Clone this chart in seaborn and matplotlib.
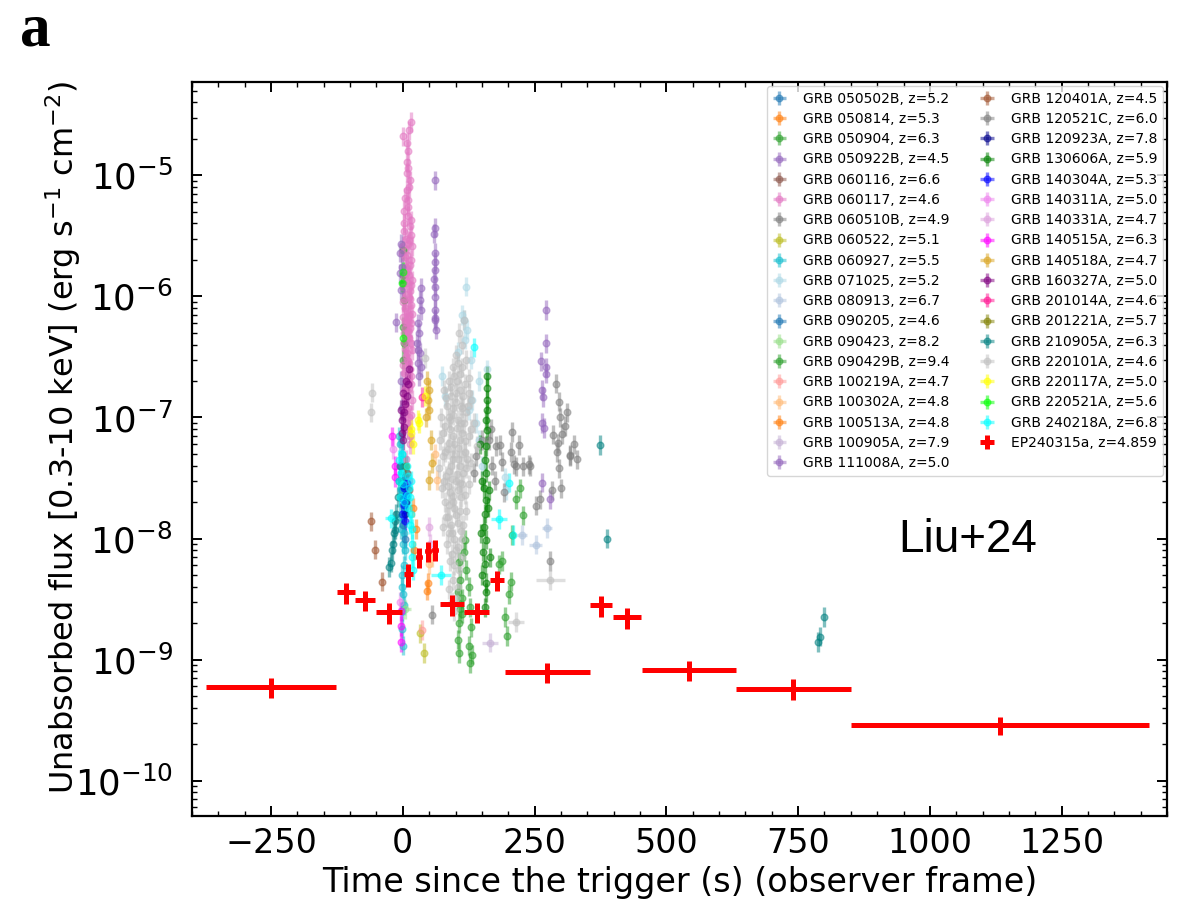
import numpy as np
import pandas as pd
import seaborn as sns
import matplotlib.pyplot as plt
from matplotlib.ticker import MultipleLocator, LogLocator, NullFormatter, FixedLocator

sns.set_style('ticks')
plt.rcParams['font.family'] = ['DejaVu Sans']
plt.rcParams['mathtext.fontset'] = 'dejavusans'
for k in ['text.color', 'axes.labelcolor', 'xtick.color', 'ytick.color', 'axes.edgecolor']:
    plt.rcParams[k] = 'black'

# ---- comparison GRBs: (time since trigger [s], flux [erg/s/cm2], optional time error) ----
grb_050502B = [(-2, 2.5e-8), (1, 1.9e-8), (4, 3.2e-8), (6, 2.2e-8)]
grb_050814 = [(20, 1.8e-8), (25, 1.2e-8), (22, 8e-9)]
grb_050904 = [(222, 2.6e-8), (214, 2.1e-8), (228, 1.55e-8), (208, 1.07e-8), (188, 6.5e-9),
              (205, 4.4e-9), (201, 3.45e-9), (194, 2.25e-9), (198, 1.56e-9), (182, 6.1e-9),
              (0, 2.4e-6), (1, 1.5e-6), (0, 1.3e-6), (2, 9.3e-7), (1, 5.6e-7), (3, 4.1e-7), (0, 3.0e-7)]
grb_050922B = [(-3, 2e-7), (-1, 1.2e-7)]
grb_060116 = [(8, 3.5e-8), (12, 2.5e-8)]
grb_060117 = [(15, 2.75e-5), (12, 2.35e-5), (0.5, 2.1e-5), (8.5, 1.85e-5), (8.5, 1.29e-5),
              (10, 1.14e-5), (13, 9.1e-6), (7, 7.5e-6), (10.5, 5.5e-6), (2, 5.1e-6),
              (15, 4.25e-6), (2, 3.5e-6), (12, 2.9e-6), (-1, 2.3e-6), (15, 2.0e-6),
              (5.5, 1.75e-6), (17, 1.36e-6), (0.5, 1.2e-6), (12, 9.9e-7), (4, 8.0e-7),
              (18, 7.2e-7), (8.5, 6.0e-7), (2, 5.0e-7), (15, 4.1e-7), (7, 3.4e-7),
              (12, 2.8e-7), (2, 2.35e-7), (15, 1.9e-7), (18, 1.39e-7), (12, 1.0e-7),
              (3, 1.5e-7), (9, 8e-8), (14, 6e-8), (6, 4.5e-8), (11, 3e-8),
              (4, 6.5e-6), (9, 4.6e-6), (16, 3.2e-6), (1, 2.6e-6), (6, 1.55e-6),
              (13, 1.1e-6), (10, 6.6e-7), (5, 5.5e-7), (8, 3.0e-7), (14, 2.5e-7),
              (3, 1.7e-7), (7, 2.2e-6), (11, 1.5e-6), (3, 9.5e-7), (16, 8.5e-7),
              (9, 4.6e-7), (5, 3.7e-7), (13, 5.5e-7), (1, 6.8e-7), (17, 2.6e-6),
              (10, 1.6e-5), (7, 1.05e-5), (12, 8e-6), (9, 6.2e-6),
              (3, 4.0e-6), (14, 3.8e-6), (6, 3.0e-6), (10, 2.7e-6), (4, 2.1e-6),
              (13, 1.8e-6), (8, 1.65e-6), (2, 1.45e-6), (15, 1.25e-6), (10, 1.3e-6),
              (6, 1.05e-6), (1, 9e-7), (14, 9.5e-7), (8, 7.6e-7), (11, 7.0e-7),
              (4, 6.2e-7), (16, 6.0e-7), (9, 5.2e-7), (12, 4.5e-7), (3, 4.2e-7),
              (17, 3.6e-7), (6, 3.2e-7), (10, 2.9e-7), (1, 2.7e-7), (16, 2.2e-7),
              (8, 2.0e-7), (12, 1.75e-7), (5, 1.2e-7), (10, 1.2e-7), (16, 1.05e-7),
              (7, 9e-8), (13, 7e-8)]
grb_060510B = [(290, 1.9e-7), (297, 1.35e-7), (312, 1.1e-7), (308, 8.5e-8), (302, 7.3e-8),
               (285, 7.2e-8), (295, 6.1e-8), (293, 5.2e-8), (317, 4.8e-8), (296, 3.8e-8),
               (301, 2.6e-8), (284, 2.5e-8), (261, 2.1e-8), (252, 1.87e-8), (241, 3.95e-8),
               (228, 3.95e-8), (215, 3.95e-8), (208, 7.6e-8), (221, 5.9e-8), (205, 5.2e-8),
               (189, 4.3e-8), (185, 5.9e-8), (279, 6.5e-9), (318, 4.9e-8), (211, 4.1e-8),
               (239, 4.1e-8), (56, 2.35e-9), (299, 1.0e-7), (325, 6.0e-8), (330, 4.5e-8)]
grb_060522 = [(32, 1.65e-9), (40, 1.13e-9)]
grb_060927 = [(-5, 6e-8), (-3, 4e-8), (0, 3e-8), (3, 2.2e-8), (-6, 1.5e-8), (2, 1.1e-8),
              (5, 8e-9), (-1, 5e-9), (0, 3.5e-9), (-2, 2.5e-9), (-1, 1.8e-9), (1, 1.3e-9),
              (-8, 7e-8), (-2, 5e-8), (2, 4e-8), (-4, 2.5e-8), (4, 1.8e-8), (-3, 1.2e-8),
              (1, 9e-9), (3, 6e-9), (-2, 4e-9), (2, 2.8e-9)]
grb_071025 = [(119, 1.2e-6), (112, 7e-7), (116, 6.4e-7), (122, 5.3e-7), (118, 4.4e-7),
              (129, 3.0e-7), (145, 2.0e-7), (132, 1.39e-7), (75, 2.2e-7), (126, 1.15e-7),
              (145, 6.5e-8), (195, 2.5e-8), (193, 3.2e-8), (138, 9e-8), (150, 4e-8),
              (80, 1.5e-7), (105, 3.5e-7), (160, 2.5e-7)]
grb_080913 = [(226, 1.07e-8, 10), (252, 8.9e-9, 12), (274, 1.22e-8, 10)]
grb_090205 = [(0, 1.3e-8), (4, 1.0e-8)]
grb_090423 = [(5, 2.6e-9, 10)]
grb_090429B = [(107, 6.4e-9), (108, 4.55e-9), (105, 3.6e-9), (108, 2.6e-9), (107, 2.0e-9),
               (105, 1.46e-9), (107, 1.13e-9), (118, 9.8e-9), (116, 7.8e-9), (112, 2.4e-9),
               (125, 4.0e-9), (127, 2.7e-9), (129, 1.85e-9), (125, 1.3e-9), (127, 9.4e-10),
               (120, 5.5e-9), (113, 3.2e-9), (131, 1.1e-9)]
grb_100219A = [(37, 1.76e-9)]
grb_100302A = [(56, 7e-9), (49, 6.1e-9), (65, 3.05e-8), (62, 5e-8)]
grb_100513A = [(46, 3.7e-9), (48, 4.3e-9)]
grb_100905A = [(165, 1.38e-9, 15)]
grb_111008A = [(61, 9.1e-6), (61, 3.7e-6), (60, 3.3e-6), (61, 2.3e-6), (62, 1.93e-6),
               (61, 1.64e-6), (59, 1.4e-6), (62, 1.2e-6), (61, 9.9e-7), (62, 7.7e-7),
               (61, 6.6e-7), (63, 5.3e-7), (34, 1.17e-6), (33, 9.3e-7), (34, 7.7e-7),
               (29, 6.0e-7), (31, 5.0e-7), (27, 4.1e-7), (32, 3.4e-7), (29, 2.8e-7),
               (29, 3.6e-7), (34, 2.6e-7), (31, 2.2e-7), (62, 6.4e-7), (-4, 2.7e-6),
               (-5, 2.3e-6), (-2, 1.75e-6), (-6, 1.55e-6), (-4, 1.12e-6), (-12, 6.1e-7),
               (271, 7.7e-7), (271, 4.1e-7), (263, 2.9e-7), (271, 2.6e-7), (271, 2.3e-7),
               (265, 1.68e-7), (266, 1.47e-7), (265, 9.0e-8), (268, 8.2e-8), (265, 2.9e-8),
               (280, 2.1e-8)]
grb_120401A = [(-61, 1.39e-8), (-52, 8.1e-9), (-39, 4.4e-9)]
grb_120521C = [(138, 4.8e-8), (150, 6.5e-8), (163, 6.5e-8), (176, 5.8e-8), (170, 4e-8),
               (175, 3e-8), (192, 2.4e-8), (168, 8e-8), (135, 3.5e-8)]
grb_120923A = [(3, 2.7e-8), (6, 2.0e-8), (4, 1.6e-8)]
grb_130606A = [(160, 1.75e-7), (159, 1.39e-7), (160, 1.15e-7), (158, 9.5e-8), (160, 7.9e-8),
               (157, 5.8e-8), (156, 4.45e-8), (158, 3.5e-8), (154, 2.6e-8), (157, 2.08e-8),
               (156, 1.6e-8), (154, 1.25e-8), (157, 9.8e-9), (153, 7.8e-9), (156, 6.1e-9),
               (157, 4.3e-9), (158, 3.6e-9), (156, 2.7e-9), (150, 3e-8), (162, 1.8e-8),
               (149, 1.1e-8), (165, 7e-9), (151, 5e-9), (163, 2.5e-8), (147, 6e-8), (159, 2.2e-7)]
grb_140304A = [(2, 1.9e-8), (5.5, 2.3e-8), (-1, 1.6e-8), (3, 2.6e-8), (0, 2.1e-8),
               (4, 1.4e-8), (7, 2.9e-8)]
grb_140311A = [(-19, 5.5e-8), (-5, 3e-9)]
grb_140331A = [(49, 1.25e-8), (52, 9e-9)]
grb_140515A = [(-4, 1.4e-9), (-4, 1.9e-9), (-20, 7e-8), (-15, 4e-8), (-14, 3.2e-8), (-4, 2.5e-9)]
grb_140518A = [(49, 1.68e-7), (48, 1.39e-7), (49, 1.15e-7), (53, 6.5e-8), (56, 4.2e-8),
               (49, 3.05e-8), (46, 2.0e-7), (44, 1.0e-7)]
grb_160327A = [(-1, 9.5e-8), (2, 8.3e-8), (-4, 1.15e-7), (12, 2.5e-7), (10.5, 1.9e-7),
               (5, 1.3e-7), (0, 6.5e-8), (1, 1.6e-7), (3, 1.1e-7), (-2, 7.5e-8),
               (6, 2.0e-7), (8, 1.5e-7)]
grb_201014A = [(37, 1.47e-7)]
grb_201221A = [(6, 4e-8)]
grb_210905A = [(-23, 6.3e-9), (-17, 1.1e-8), (-14, 1.18e-8), (-26, 5.8e-9), (-20, 8e-9),
               (-12, 1.6e-8), (-10, 2.2e-8), (-15, 1.4e-8), (-8, 3e-8), (-18, 9e-9),
               (-6, 4e-8), (374, 5.9e-8), (388, 1.0e-8), (799, 2.24e-9), (792, 1.55e-9),
               (788, 1.4e-9)]
grb_220101A = [(116, 6.4e-7), (106, 5.0e-7), (112, 4.0e-7), (100, 3.3e-7), (120, 3.0e-7),
               (95, 2.6e-7), (108, 2.3e-7), (125, 2.1e-7), (88, 2.0e-7), (78, 1.7e-7),
               (100, 1.6e-7), (115, 1.5e-7), (130, 1.4e-7), (84, 1.25e-7), (95, 1.2e-7),
               (120, 1.1e-7), (72, 1.0e-7), (105, 9.5e-8), (135, 9e-8), (80, 8.5e-8),
               (90, 8e-8), (112, 7.5e-8), (125, 7e-8), (70, 6.5e-8), (98, 6e-8),
               (140, 5.8e-8), (85, 5.5e-8), (118, 5.2e-8), (76, 4.8e-8), (104, 4.5e-8),
               (130, 4.2e-8), (92, 4.0e-8), (68, 3.8e-8), (115, 3.5e-8), (82, 3.3e-8),
               (100, 3.0e-8), (125, 2.8e-8), (74, 2.6e-8), (90, 2.4e-8), (110, 2.2e-8),
               (80, 2.0e-8), (98, 1.8e-8), (120, 1.7e-8), (86, 1.5e-8), (104, 1.35e-8),
               (76, 1.25e-8), (94, 1.1e-8), (112, 1.0e-8), (84, 9e-9), (100, 8e-9),
               (90, 6.5e-9), (106, 5.5e-9), (96, 4.5e-9), (88, 3.8e-9), (100, 3.2e-9),
               (110, 1.25e-7), (92, 1.5e-7), (103, 2.0e-7), (117, 9e-8), (87, 1.0e-7),
               (108, 6.5e-8), (95, 5e-8), (122, 4.5e-8), (78, 3.0e-8), (108, 2.9e-8),
               (95, 2.0e-8), (115, 1.3e-8), (82, 1.5e-8),
               (105, 2.8e-7), (113, 2.6e-7), (98, 2.2e-7), (118, 1.9e-7), (92, 1.8e-7),
               (108, 1.7e-7), (125, 1.6e-7), (82, 1.45e-7), (100, 1.35e-7), (113, 1.2e-7),
               (96, 1.05e-7), (124, 1.25e-7), (90, 9.5e-8), (110, 9e-8), (102, 8.2e-8),
               (130, 8e-8), (76, 7.5e-8), (95, 7e-8), (118, 6.4e-8), (88, 6.2e-8),
               (104, 5.6e-8), (112, 5e-8), (80, 5.2e-8), (96, 4.5e-8), (108, 4.0e-8),
               (88, 3.6e-8), (120, 3.8e-8), (102, 3.4e-8), (94, 3.1e-8), (112, 2.8e-8),
               (86, 2.7e-8), (104, 2.5e-8), (118, 2.3e-8), (96, 2.25e-8), (88, 1.9e-8),
               (108, 1.7e-8), (100, 1.55e-8), (92, 1.3e-8), (110, 1.15e-8), (98, 1.0e-8),
               (88, 1.1e-8), (105, 8.5e-9), (94, 7.5e-9), (112, 7e-9), (98, 6e-9),
               (104, 4e-9), (94, 3e-9), (98, 2.5e-9),
               (280, 4.55e-9, 28), (214, 2.05e-9, 15), (-58, 1.6e-7), (-60, 1.1e-7), (43, 3.1e-7)]
grb_220117A = [(31, 9e-8), (15, 8e-8), (29, 9.5e-8), (43, 1.5e-7), (15, 7.5e-8), (20, 6e-8)]
grb_220521A = [(-1, 1.3e-6), (0, 1.6e-6), (1, 4.5e-7)]
grb_240218A = [(-23, 1.47e-8, 10), (-7, 4.45e-8), (-4, 3.5e-8), (0, 2.8e-8), (14, 2.2e-8),
               (16, 1.6e-8), (17, 1.2e-8), (18, 9e-9), (17, 7e-9), (19, 5.5e-9),
               (72, 5e-9, 19), (135, 3.8e-7), (182, 1.45e-8, 15), (201, 2.9e-8),
               (210, 1.07e-8), (15, 3e-8), (-2, 5e-8), (3, 2e-8), (8, 4e-8), (10, 3.3e-8),
               (12, 2.6e-8), (9, 1.8e-8), (13, 1.3e-8), (7, 2.3e-8), (-5, 2.2e-8), (-8, 3e-8)]

# ---- EP240315a ----
ep_t = [-250, -108, -72, -26, 10, 31, 48, 62, 94, 140, 179, 274, 376, 425, 543, 741, 1133]
ep_terr = [123, 17, 19, 24, 8.5, 6, 5.7, 5.7, 23, 24, 13, 81, 20.5, 27, 90, 109, 282]
ep_flux = [5.9e-10, 3.6e-9, 3.1e-9, 2.45e-9, 5.1e-9, 7.0e-9, 7.9e-9, 8.1e-9, 2.86e-9,
           2.48e-9, 4.55e-9, 7.9e-10, 2.8e-9, 2.23e-9, 8.2e-10, 5.75e-10, 2.86e-10]
ep_ferr = [1.1e-10, 7e-10, 6e-10, 4.7e-10, 1.1e-9, 1.3e-9, 1.5e-9, 1.6e-9, 5.5e-10,
           4.8e-10, 8.7e-10, 1.5e-10, 5.5e-10, 4.3e-10, 1.6e-10, 1.1e-10, 5e-11]

y_ticks = [1e-10, 1e-9, 1e-8, 1e-7, 1e-6, 1e-5]

tab = sns.color_palette('tab10').as_hex()
grbs = [
    ('GRB 050502B, z=5.2', tab[0], grb_050502B),
    ('GRB 050814, z=5.3', tab[1], grb_050814),
    ('GRB 050904, z=6.3', tab[2], grb_050904),
    ('GRB 050922B, z=4.5', tab[4], grb_050922B),
    ('GRB 060116, z=6.6', tab[5], grb_060116),
    ('GRB 060117, z=4.6', tab[6], grb_060117),
    ('GRB 060510B, z=4.9', tab[7], grb_060510B),
    ('GRB 060522, z=5.1', tab[8], grb_060522),
    ('GRB 060927, z=5.5', tab[9], grb_060927),
    ('GRB 071025, z=5.2', 'lightblue', grb_071025),
    ('GRB 080913, z=6.7', 'lightsteelblue', grb_080913),
    ('GRB 090205, z=4.6', tab[0], grb_090205),
    ('GRB 090423, z=8.2', '#98df8a', grb_090423),
    ('GRB 090429B, z=9.4', tab[2], grb_090429B),
    ('GRB 100219A, z=4.7', '#ff9896', grb_100219A),
    ('GRB 100302A, z=4.8', '#ffbb78', grb_100302A),
    ('GRB 100513A, z=4.8', tab[1], grb_100513A),
    ('GRB 100905A, z=7.9', '#c5b0d5', grb_100905A),
    ('GRB 111008A, z=5.0', tab[4], grb_111008A),
    ('GRB 120401A, z=4.5', 'sienna', grb_120401A),
    ('GRB 120521C, z=6.0', 'gray', grb_120521C),
    ('GRB 120923A, z=7.8', 'darkblue', grb_120923A),
    ('GRB 130606A, z=5.9', 'green', grb_130606A),
    ('GRB 140304A, z=5.3', 'blue', grb_140304A),
    ('GRB 140311A, z=5.0', 'violet', grb_140311A),
    ('GRB 140331A, z=4.7', 'plum', grb_140331A),
    ('GRB 140515A, z=6.3', 'magenta', grb_140515A),
    ('GRB 140518A, z=4.7', 'goldenrod', grb_140518A),
    ('GRB 160327A, z=5.0', 'purple', grb_160327A),
    ('GRB 201014A, z=4.6', 'deeppink', grb_201014A),
    ('GRB 201221A, z=5.7', 'olive', grb_201221A),
    ('GRB 210905A, z=6.3', 'teal', grb_210905A),
    ('GRB 220101A, z=4.6', 'silver', grb_220101A),
    ('GRB 220117A, z=5.0', 'yellow', grb_220117A),
    ('GRB 220521A, z=5.6', 'lime', grb_220521A),
    ('GRB 240218A, z=6.8', 'cyan', grb_240218A),
]

rows = []
for label, color, pts in grbs:
    for p in pts:
        rows.append({'grb': label, 't': p[0], 'flux': p[1],
                     'dt': p[2] if len(p) > 2 else 0.0})
df = pd.DataFrame(rows)

fig = plt.figure(figsize=(11.83, 9.0), dpi=100)
ax = fig.add_axes([0.1623, 0.0933, 0.8242, 0.8156])

dex = 0.08  # half-height of flux error bars in log space
for label, color, pts in grbs:
    sub = df[df['grb'] == label]
    f = sub['flux'].values
    yerr = [f * (1 - 10 ** -dex), f * (10 ** dex - 1)]
    ax.errorbar(sub['t'], f, xerr=sub['dt'].values, yerr=yerr, fmt='o', ms=4.8,
                color=color, alpha=0.5, elinewidth=2.4, capsize=0, label=label)

ax.errorbar(ep_t, ep_flux, xerr=ep_terr, yerr=ep_ferr, fmt='o', ms=4, color='red',
            elinewidth=3.6, capsize=0, label='EP240315a, z=4.859', zorder=10)

ax.set_yscale('log')
ax.set_xlim(-400, 1450)
ax.set_ylim(5.1e-11, 5.9e-5)
ax.xaxis.set_major_locator(MultipleLocator(250))
ax.xaxis.set_minor_locator(MultipleLocator(50))
ax.yaxis.set_major_locator(FixedLocator(y_ticks))
ax.yaxis.set_minor_locator(LogLocator(base=10, subs=np.arange(2, 10), numticks=100))
ax.yaxis.set_minor_formatter(NullFormatter())

ax.tick_params(which='both', direction='in', top=True, right=True)
ax.tick_params(which='major', length=7, width=1.4)
ax.tick_params(axis='x', which='major', pad=8, labelsize=24)
ax.tick_params(axis='y', which='major', pad=14, labelsize=25.5)
ax.tick_params(which='minor', length=3.5, width=1.0)
for s in ax.spines.values():
    s.set_linewidth(1.6)

ax.set_xlabel('Time since the trigger (s) (observer frame)', fontsize=24, labelpad=4)
ax.set_ylabel(r'Unabsorbed flux [0.3-10 keV] (erg s$^{-1}$ cm$^{-2}$)', fontsize=23)
ax.yaxis.set_label_coords(-0.112, 0.516)

ax.legend(loc='upper right', ncol=2, fontsize=10, numpoints=1, handlelength=1.0,
          handletextpad=1.2, columnspacing=2.2, labelspacing=0.45, borderpad=0.4,
          borderaxespad=0.3, frameon=True)

ax.text(0.724, 0.376, 'Liu+24', transform=ax.transAxes, fontsize=33,
        family='Liberation Sans', va='center', ha='left')
fig.text(0.017, 0.95, 'a', fontsize=44, fontweight='bold', family='Liberation Serif',
         va='baseline')

fig.savefig('out.png', dpi=100)
